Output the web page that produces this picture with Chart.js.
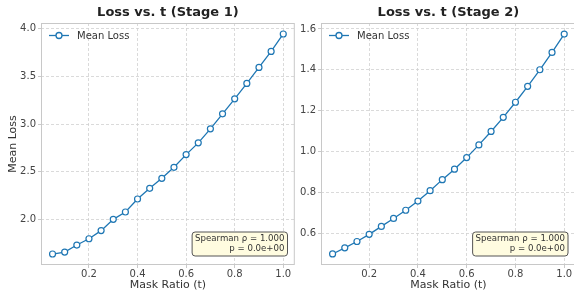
<!DOCTYPE html>
<html>
  <head>
    <style>
      html, body { margin: 0; padding: 0; background: #ffffff; overflow: hidden; }
      #wrap { position: relative; width: 574px; height: 293px; overflow: hidden; }
      #left { position: absolute; left: 0; top: 0; }
      #right { position: absolute; left: 300px; top: 0; }
    </style>
  </head>
  <body>
    <div id="wrap">
      <canvas id="left" width="300" height="293"></canvas>
      <canvas id="right" width="281" height="293"></canvas>
    </div>

    <script src="https://cdn.jsdelivr.net/npm/chart.js"></script>
    <script>
      // mask ratios and mean loss per stage
      const maskRatio = [0.05, 0.10, 0.15, 0.20, 0.25, 0.30, 0.35, 0.40, 0.45, 0.50,
                         0.55, 0.60, 0.65, 0.70, 0.75, 0.80, 0.85, 0.90, 0.95, 1.00];
      const stage1Loss = [1.640, 1.660, 1.734, 1.800, 1.885, 2.003, 2.080, 2.216, 2.328, 2.433,
                          2.548, 2.681, 2.804, 2.951, 3.108, 3.265, 3.426, 3.594, 3.761, 3.944];
      const stage2Loss = [0.498, 0.528, 0.559, 0.594, 0.633, 0.672, 0.712, 0.757, 0.808, 0.862,
                          0.913, 0.970, 1.032, 1.098, 1.167, 1.241, 1.319, 1.400, 1.485, 1.575];
      const xTicks = [0.2, 0.4, 0.6, 0.8, 1.0];
      const stage1Ticks = [2.0, 2.5, 3.0, 3.5, 4.0];
      const stage2Ticks = [0.6, 0.8, 1.0, 1.2, 1.4, 1.6];
      const statLines = ['Spearman \u03c1 = 1.000', 'p = 0.0e+00'];

      const FONT = "'DejaVu Sans', sans-serif";
      const BLUE = '#1f77b4';

      // frame, in-axes legend and the stats box
      const extras = {
        id: 'extras',
        afterDraw(chart) {
          const ctx = chart.ctx;
          const a = chart.chartArea;
          ctx.save();
          ctx.strokeStyle = '#c8c8c8';
          ctx.lineWidth = 1;
          ctx.strokeRect(a.left + 0.5, a.top + 0.5, a.right - a.left - 1, a.bottom - a.top - 1);

          // legend
          const ly = a.top + 12.5;
          const lx = a.left + 8;
          ctx.strokeStyle = BLUE;
          ctx.lineWidth = 1.3;
          ctx.beginPath();
          ctx.moveTo(lx, ly);
          ctx.lineTo(lx + 20, ly);
          ctx.stroke();
          ctx.beginPath();
          ctx.arc(lx + 10, ly, 3, 0, Math.PI * 2);
          ctx.fillStyle = '#ffffff';
          ctx.fill();
          ctx.stroke();
          ctx.fillStyle = '#333333';
          ctx.font = '10px ' + FONT;
          ctx.textBaseline = 'middle';
          ctx.textAlign = 'left';
          ctx.fillText('Mean Loss', lx + 28, ly + 0.5);

          // stats box
          ctx.font = '8.6px ' + FONT;
          let w = 0;
          statLines.forEach(s => { w = Math.max(w, ctx.measureText(s).width); });
          const bw = w + 6;
          const bh = 24;
          const bx = chart.options.statRight - bw;
          const by = a.bottom - 9.5 - bh;
          ctx.beginPath();
          ctx.roundRect(bx + 0.5, by + 0.5, bw, bh, 3);
          ctx.fillStyle = '#fffce0';
          ctx.fill();
          ctx.strokeStyle = '#555555';
          ctx.lineWidth = 1;
          ctx.stroke();
          ctx.fillStyle = '#333333';
          ctx.textAlign = 'right';
          ctx.fillText(statLines[0], bx + bw - 2.5, by + 7);
          ctx.fillText(statLines[1], bx + bw - 2.5, by + 17.5);
          ctx.restore();
        }
      };

      function makeChart(id, title, values, yTicks, yMin, yMax, yWidth, yTitle, padRight, statRight) {
        return new Chart(document.getElementById(id), {
          type: 'line',
          data: {
            labels: maskRatio,
            datasets: [{
              label: 'Mean Loss',
              data: maskRatio.map((t, i) => ({ x: t, y: values[i] })),
              borderColor: BLUE,
              borderWidth: 1.3,
              pointRadius: 3,
              pointBorderWidth: 1.2,
              pointBackgroundColor: '#ffffff',
              pointBorderColor: BLUE,
              tension: 0
            }]
          },
          options: {
            responsive: false,
            animation: false,
            statRight: statRight,
            layout: { padding: { top: 0.4, right: padRight, left: 0, bottom: 0 } },
            plugins: {
              legend: { display: false },
              tooltip: { enabled: false },
              title: {
                display: true,
                text: title,
                fullSize: false,
                color: '#222222',
                padding: { top: 4, bottom: 3 },
                font: { family: FONT, size: 13, weight: 'bold' }
              }
            },
            scales: {
              x: {
                type: 'linear',
                min: 0.0025,
                max: 1.0475,
                afterBuildTicks: s => { s.ticks = xTicks.map(v => ({ value: v })); },
                afterFit: s => { s.height = 28; },
                grid: {
                  color: '#d0d0d0',
                  lineWidth: 0.8,
                  tickLength: 3,
                  tickColor: '#bdbdbd',
                  tickBorderDash: []
                },
                border: { display: false, dash: [3, 2] },
                ticks: {
                  color: '#444444',
                  padding: 0,
                  maxRotation: 0,
                  font: { family: FONT, size: 10 },
                  callback: v => v.toFixed(1)
                },
                title: {
                  display: true,
                  text: 'Mask Ratio (t)',
                  color: '#333333',
                  padding: { top: 0, bottom: 1.5 },
                  font: { family: FONT, size: 11 }
                }
              },
              y: {
                min: yMin,
                max: yMax,
                afterBuildTicks: s => { s.ticks = yTicks.map(v => ({ value: v })); },
                afterFit: s => { s.width = yWidth; },
                grid: {
                  color: '#d0d0d0',
                  lineWidth: 0.8,
                  tickLength: 3,
                  tickColor: '#bdbdbd',
                  tickBorderDash: []
                },
                border: { display: false, dash: [3, 2] },
                ticks: {
                  color: '#444444',
                  padding: 2,
                  font: { family: FONT, size: 10 },
                  callback: v => v.toFixed(1)
                },
                title: {
                  display: yTitle !== '',
                  text: yTitle,
                  color: '#333333',
                  padding: { top: 6.4, bottom: 0 },
                  font: { family: FONT, size: 11 }
                }
              }
            }
          },
          plugins: [extras]
        });
      }

      makeChart('left', 'Loss vs. t (Stage 1)', stage1Loss, stage1Ticks, 1.525, 4.059, 41, 'Mean Loss', 3, 287);
      makeChart('right', 'Loss vs. t (Stage 2)', stage2Loss, stage2Ticks, 0.444, 1.629, 21, '', 2, 267.5);
    </script>
  </body>
</html>
